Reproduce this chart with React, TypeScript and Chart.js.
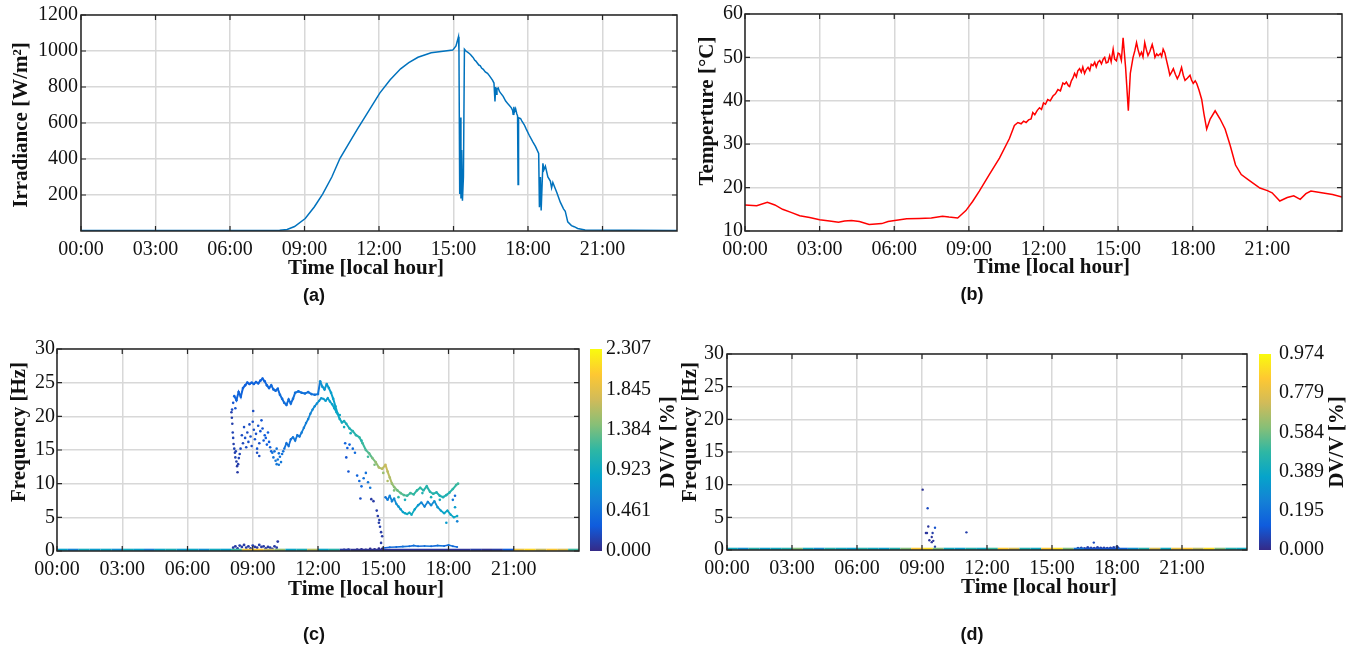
import React, { useEffect, useRef } from "react";
import { Chart, registerables } from "chart.js";
Chart.register(...registerables);

// ---------------- data ----------------
const xTickHours = [0, 3, 6, 9, 12, 15, 18, 21];
const xTickLabels = ["00:00", "03:00", "06:00", "09:00", "12:00", "15:00", "18:00", "21:00"];
const irrTicks = [200, 400, 600, 800, 1000, 1200];
const tempTicks = [10, 20, 30, 40, 50, 60];
const freqTicks = [0, 5, 10, 15, 20, 25, 30];
const cbTicksC = [0, 0.461, 0.923, 1.384, 1.845, 2.307];
const cbTicksD = [0, 0.195, 0.389, 0.584, 0.779, 0.974];

const irrTime = [0, 4, 8.0, 8.3, 8.6, 9.03, 9.4, 9.73, 10.1, 10.43, 10.8, 11.13, 11.6, 12.03, 12.45, 12.87, 13.2, 13.57, 14.1, 14.5, 14.97, 15.1, 15.2, 15.22, 15.25, 15.28, 15.3, 15.33, 15.36, 15.4, 15.44, 15.5, 15.58, 15.65, 15.7, 15.75, 15.8, 15.85, 15.9, 15.95, 16.02, 16.08, 16.13, 16.2, 16.28, 16.37, 16.45, 16.5, 16.57, 16.63, 16.65, 16.67, 16.7, 16.72, 16.75, 16.8, 16.85, 16.9, 17.0, 17.1, 17.2, 17.33, 17.38, 17.4, 17.43, 17.45, 17.5, 17.55, 17.58, 17.6, 17.62, 17.7, 17.75, 17.85, 17.93, 18.05, 18.2, 18.3, 18.43, 18.46, 18.5, 18.53, 18.6, 18.64, 18.7, 18.8, 18.9, 18.95, 19.0, 19.16, 19.3, 19.43, 19.5, 19.6, 19.75, 19.86, 20.0, 20.3, 24];
const irrValue = [3, 3, 4, 8, 25, 69, 135, 205, 300, 404, 490, 566, 670, 766, 840, 901, 935, 965, 990, 997, 1005, 1028, 1079, 1000, 205, 630, 180, 450, 168, 300, 1010, 1000, 992, 985, 978, 970, 962, 950, 944, 935, 922, 918, 905, 898, 884, 876, 862, 852, 838, 822, 770, 720, 800, 760, 790, 795, 775, 766, 748, 722, 705, 684, 670, 648, 690, 660, 680, 650, 640, 259, 630, 625, 612, 590, 566, 532, 494, 470, 431, 132, 300, 114, 376, 340, 360, 300, 277, 240, 270, 214, 160, 123, 110, 51, 30, 24, 14, 5, 3];

const tempTime = [0, 0.47, 0.9, 1.2, 1.51, 1.85, 2.2, 2.6, 3.0, 3.4, 3.76, 4.0, 4.28, 4.6, 4.99, 5.25, 5.5, 5.75, 6.02, 6.5, 7.0, 7.49, 7.94, 8.2, 8.55, 8.88, 9.15, 9.42, 9.82, 10.23, 10.63, 10.83, 10.97, 11.1, 11.2, 11.3, 11.4, 11.5, 11.57, 11.65, 11.75, 11.84, 11.92, 12.0, 12.08, 12.17, 12.27, 12.38, 12.48, 12.58, 12.68, 12.78, 12.85, 12.92, 13.0, 13.05, 13.12, 13.18, 13.25, 13.32, 13.38, 13.45, 13.52, 13.58, 13.65, 13.72, 13.79, 13.86, 13.92, 13.99, 14.06, 14.12, 14.19, 14.26, 14.33, 14.4, 14.46, 14.52, 14.59, 14.66, 14.72, 14.8, 14.86, 14.93, 15.0, 15.06, 15.13, 15.2, 15.3, 15.41, 15.49, 15.6, 15.67, 15.74, 15.8, 15.87, 15.94, 16.0, 16.07, 16.13, 16.2, 16.28, 16.37, 16.43, 16.48, 16.55, 16.61, 16.7, 16.75, 16.81, 16.88, 16.95, 17.02, 17.08, 17.15, 17.22, 17.3, 17.38, 17.46, 17.55, 17.62, 17.69, 17.78, 17.89, 17.95, 18.02, 18.1, 18.16, 18.25, 18.36, 18.45, 18.56, 18.7, 18.9, 19.1, 19.3, 19.5, 19.72, 19.95, 20.24, 20.7, 21.0, 21.19, 21.5, 21.8, 22.06, 22.32, 22.55, 22.75, 23.18, 23.62, 24];
const tempValue = [16.0, 15.8, 16.6, 16.0, 15.0, 14.3, 13.5, 13.1, 12.6, 12.3, 12.0, 12.3, 12.4, 12.2, 11.5, 11.6, 11.7, 12.2, 12.4, 12.8, 12.9, 13.0, 13.4, 13.2, 13.0, 14.7, 16.8, 19.2, 23.0, 26.8, 31.3, 34.3, 35.0, 34.7, 35.3, 35.0, 35.6, 35.8, 37.3, 36.8, 37.8, 38.4, 38.0, 39.5, 39.2, 40.3, 40.0, 41.1, 41.6, 42.6, 42.3, 44.1, 43.8, 44.3, 43.5, 43.3, 44.6, 45.2, 46.3, 45.5, 46.9, 47.4, 46.6, 47.8, 46.3, 47.2, 47.7, 47.0, 48.4, 48.1, 48.9, 47.8, 48.9, 49.3, 48.5, 49.6, 50.0, 48.7, 48.9, 50.4, 49.0, 51.9, 49.6, 49.2, 51.0, 50.8, 49.3, 54.5, 47.7, 37.7, 46.3, 50.0, 51.5, 53.4, 51.8, 50.4, 51.2, 50.1, 53.4, 51.9, 50.4, 51.4, 53.0, 51.6, 50.0, 50.8, 50.4, 50.9, 50.2, 51.9, 51.0, 49.2, 47.5, 45.9, 46.6, 47.4, 46.1, 45.1, 46.0, 47.7, 45.9, 44.7, 45.2, 45.9, 44.8, 44.0, 44.6, 44.0, 42.5, 40.3, 37.0, 33.5, 35.8, 37.7, 35.8, 33.5, 29.8, 25.2, 23.0, 21.8, 19.9, 19.3, 18.8, 16.9, 17.7, 18.1, 17.3, 18.6, 19.2, 18.8, 18.4, 17.8];

// panel (c): [hour, frequency Hz, DV/V %]
const cUpperBand = [[8.15, 23.0, 0.35], [8.25, 22.4, 0.35], [8.35, 23.6, 0.35], [8.45, 22.9, 0.35], [8.55, 24.2, 0.33], [8.65, 24.6, 0.33], [8.75, 25.0, 0.33], [8.85, 24.8, 0.33], [8.95, 25.0, 0.35], [9.05, 24.8, 0.35], [9.15, 25.1, 0.35], [9.25, 24.9, 0.35], [9.35, 25.3, 0.35], [9.45, 25.6, 0.35], [9.55, 25.2, 0.35], [9.65, 24.6, 0.38], [9.75, 24.2, 0.38], [9.85, 24.6, 0.38], [9.95, 24.0, 0.4], [10.05, 23.8, 0.4], [10.15, 24.1, 0.4], [10.25, 23.2, 0.42], [10.35, 22.6, 0.42], [10.45, 22.0, 0.42], [10.55, 21.7, 0.42], [10.65, 22.5, 0.42], [10.75, 21.9, 0.42], [10.85, 22.6, 0.45], [10.95, 23.5, 0.45], [11.1, 23.7, 0.45], [11.25, 23.5, 0.45], [11.4, 23.4, 0.45], [11.55, 23.6, 0.45], [11.7, 23.3, 0.45], [11.85, 23.2, 0.45], [12.0, 23.3, 0.5], [12.1, 25.2, 0.7], [12.2, 24.4, 0.75], [12.3, 24.0, 0.75], [12.4, 24.8, 0.78], [12.5, 24.2, 0.8], [12.6, 23.5, 0.82], [12.7, 22.6, 0.85], [12.8, 21.5, 0.9], [12.9, 20.4, 0.9], [13.0, 19.6, 0.95], [13.1, 19.1, 0.95], [13.2, 19.3, 1.0], [13.3, 18.9, 1.0], [13.45, 18.2, 1.05], [13.6, 17.8, 1.1], [13.75, 17.2, 1.1], [13.9, 16.9, 1.15], [14.05, 16.0, 1.2], [14.2, 15.0, 1.25], [14.35, 14.5, 1.3], [14.5, 13.8, 1.4], [14.65, 13.2, 1.5], [14.8, 12.4, 1.6], [14.95, 12.2, 1.65], [15.1, 12.8, 1.7], [15.2, 11.8, 1.65], [15.3, 10.9, 1.6], [15.4, 10.0, 1.5], [15.5, 9.5, 1.45], [15.65, 9.0, 1.35], [15.8, 8.6, 1.3], [15.95, 8.3, 1.25], [16.1, 8.2, 1.2], [16.25, 8.6, 1.2], [16.4, 8.4, 1.15], [16.55, 9.0, 1.15], [16.7, 9.4, 1.15], [16.85, 9.0, 1.1], [17.0, 9.6, 1.1], [17.15, 8.8, 1.1], [17.3, 8.5, 1.1], [17.45, 8.7, 1.05], [17.6, 8.2, 1.05], [17.75, 8.0, 1.05], [17.9, 8.3, 1.05], [18.05, 8.7, 1.1], [18.2, 9.2, 1.15], [18.35, 9.8, 1.2], [18.44, 10.0, 1.2]];
const cLowerBand = [[10.45, 15.2, 0.45], [10.55, 16.0, 0.45], [10.65, 15.6, 0.45], [10.75, 16.6, 0.45], [10.85, 16.9, 0.5], [10.95, 16.4, 0.5], [11.05, 17.2, 0.5], [11.15, 17.0, 0.5], [11.25, 17.6, 0.55], [11.35, 18.3, 0.55], [11.45, 19.0, 0.55], [11.55, 19.6, 0.6], [11.65, 20.4, 0.6], [11.75, 21.0, 0.65], [11.85, 21.5, 0.65], [11.95, 21.9, 0.7], [12.05, 22.3, 0.72], [12.15, 22.7, 0.75], [12.25, 22.6, 0.78], [12.35, 22.3, 0.8], [12.45, 22.7, 0.8], [12.55, 22.2, 0.82], [12.65, 21.8, 0.85], [12.75, 21.2, 0.88], [12.85, 20.6, 0.9]];
const cLateBand = [[15.1, 8.0, 0.5], [15.2, 7.6, 0.55], [15.3, 8.2, 0.6], [15.4, 7.4, 0.6], [15.5, 7.8, 0.65], [15.6, 7.0, 0.7], [15.7, 6.6, 0.75], [15.8, 6.2, 0.8], [15.9, 5.8, 0.85], [16.0, 5.6, 0.9], [16.1, 5.5, 0.95], [16.2, 5.7, 0.95], [16.3, 5.4, 0.95], [16.45, 6.2, 0.85], [16.6, 6.8, 0.75], [16.75, 7.2, 0.6], [16.9, 6.6, 0.6], [17.05, 7.3, 0.6], [17.2, 6.8, 0.65], [17.35, 7.4, 0.7], [17.5, 6.5, 0.75], [17.65, 6.0, 0.85], [17.8, 5.6, 0.9], [17.95, 6.0, 0.9], [18.1, 5.4, 0.9], [18.25, 5.0, 0.9], [18.4, 5.2, 0.9]];
const cScatter = [[8.02, 20.6, 0.12], [8.04, 19.8, 0.12], [8.06, 18.9, 0.12], [8.08, 17.6, 0.15], [8.1, 16.8, 0.15], [8.12, 15.9, 0.12], [8.15, 15.2, 0.15], [8.18, 14.6, 0.12], [8.2, 13.9, 0.15], [8.22, 14.8, 0.15], [8.25, 13.3, 0.12], [8.28, 12.6, 0.1], [8.3, 11.7, 0.1], [8.33, 12.9, 0.12], [8.36, 13.8, 0.15], [8.4, 14.4, 0.15], [8.44, 15.2, 0.18], [8.1, 22.0, 0.25], [8.2, 21.2, 0.25], [8.05, 21.0, 0.2],
  [8.5, 17.2, 0.2], [8.55, 16.0, 0.18], [8.6, 18.4, 0.2], [8.65, 16.8, 0.22], [8.7, 15.4, 0.2], [8.75, 17.6, 0.2], [8.8, 16.2, 0.22], [8.85, 18.8, 0.2], [8.9, 17.0, 0.22], [8.95, 15.6, 0.2], [9.0, 19.2, 0.22], [9.02, 20.8, 0.2], [9.05, 18.0, 0.22], [9.1, 16.6, 0.25], [9.15, 17.4, 0.22], [9.2, 15.2, 0.25], [9.25, 18.6, 0.25], [9.3, 16.0, 0.22], [9.35, 17.8, 0.25], [9.4, 19.4, 0.25], [9.45, 18.2, 0.25], [9.5, 16.4, 0.28], [9.55, 17.2, 0.28], [9.6, 16.8, 0.3], [9.65, 15.8, 0.3], [9.7, 17.6, 0.3], [9.75, 16.2, 0.3], [9.8, 15.4, 0.32], [9.85, 14.8, 0.35], [9.2, 14.6, 0.2], [9.3, 14.1, 0.2],
  [9.9, 14.6, 0.45], [9.95, 13.9, 0.45], [10.0, 14.8, 0.45], [10.05, 13.4, 0.5], [10.1, 12.9, 0.5], [10.15, 13.6, 0.5], [10.2, 12.8, 0.5], [10.25, 14.0, 0.45], [10.3, 13.2, 0.5], [10.35, 14.4, 0.45], [10.4, 14.8, 0.45], [10.1, 15.2, 0.45], [10.2, 14.5, 0.45],
  [13.25, 16.0, 0.35], [13.35, 15.3, 0.3], [13.45, 15.8, 0.35], [13.3, 13.9, 0.25], [13.4, 11.8, 0.25], [13.6, 15.2, 0.4], [13.7, 14.6, 0.4], [13.8, 11.2, 0.35], [13.9, 10.4, 0.4], [14.0, 9.6, 0.4], [14.1, 10.8, 0.45], [14.2, 11.6, 0.45], [14.3, 10.2, 0.5], [14.4, 9.4, 0.5], [13.95, 7.8, 0.2], [14.45, 7.7, 0.1], [14.55, 7.4, 0.1], [14.7, 6.0, 0.12], [14.75, 5.2, 0.1], [14.8, 4.2, 0.1], [14.85, 3.6, 0.12], [14.9, 2.8, 0.1], [14.95, 2.2, 0.1], [14.82, 4.6, 0.12], [14.9, 1.2, 0.1],
  [13.0, 20.2, 0.9], [13.2, 18.4, 0.95], [13.5, 17.5, 1.0], [14.0, 16.4, 1.1], [14.3, 14.0, 1.2], [14.6, 12.8, 1.4], [15.0, 11.6, 1.5], [15.2, 10.4, 1.6], [15.5, 9.0, 1.4], [15.7, 8.0, 1.1], [16.0, 7.6, 1.0], [16.8, 8.6, 1.05], [17.2, 8.0, 1.0], [17.6, 7.6, 0.95], [18.3, 6.5, 0.8], [18.2, 7.6, 0.5], [18.3, 8.2, 0.4], [18.4, 4.4, 0.6], [17.9, 4.2, 0.8]];
const cLowCluster = [[8.1, 0.5, 0.1], [8.2, 0.7, 0.1], [8.3, 0.4, 0.1], [8.4, 0.8, 0.12], [8.5, 0.6, 0.1], [8.6, 0.9, 0.1], [8.7, 0.5, 0.12], [8.8, 0.7, 0.1], [8.9, 0.4, 0.1], [9.0, 0.8, 0.12], [9.1, 0.6, 0.1], [9.2, 0.5, 0.1], [9.3, 0.9, 0.12], [9.4, 0.6, 0.1], [9.5, 0.7, 0.1], [9.6, 0.4, 0.1], [9.7, 0.6, 0.1], [9.8, 0.5, 0.12], [9.9, 0.3, 0.1], [10.0, 0.7, 0.1], [10.1, 0.5, 0.1], [10.15, 1.4, 0.1],
  [13.2, 0.15, 0.03], [13.4, 0.2, 0.03], [13.6, 0.1, 0.03], [13.8, 0.2, 0.03], [14.0, 0.25, 0.03], [14.2, 0.15, 0.03], [14.4, 0.3, 0.03], [14.6, 0.25, 0.03], [14.8, 0.35, 0.03], [14.95, 0.3, 0.03]];
const cLowLine = [[15.0, 0.45, 0.35], [15.3, 0.55, 0.4], [15.6, 0.6, 0.4], [15.9, 0.65, 0.45], [16.2, 0.7, 0.4], [16.4, 0.8, 0.45], [16.6, 0.7, 0.4], [16.9, 0.75, 0.45], [17.2, 0.7, 0.4], [17.5, 0.8, 0.45], [17.8, 0.75, 0.4], [18.0, 0.9, 0.45], [18.2, 0.7, 0.4], [18.4, 0.6, 0.4]];

const baseFreq = 0.15;
const baseTime = [0, 0.5, 1, 1.5, 2, 2.5, 3, 3.5, 4, 4.5, 5, 5.5, 6, 6.5, 7, 7.5, 8, 8.5, 9, 9.5, 10, 10.5, 11, 11.5, 12, 12.5, 13, 13.5, 14, 14.5, 15, 15.5, 16, 16.5, 17, 17.5, 18, 18.5, 19, 19.5, 20, 20.5, 21, 21.5, 22, 22.5, 23, 23.5, 24];
const cBaseDv = [0.85, 0.6, 0.95, 0.8, 0.9, 0.7, 0.95, 0.85, 0.6, 0.9, 1.0, 0.8, 0.9, 0.7, 0.95, 0.85, 1.2, 1.9, 2.0, 1.7, 1.5, 0.9, 1.0, 1.6, 0.9, 1.1, 0.1, 0.05, 0.05, 0.05, 0.05, 0.05, 0.05, 0.05, 0.05, 0.05, 0.05, 0.05, 0.1, 0.05, 0.1, 0.3, 1.9, 2.1, 1.7, 2.0, 1.8, 1.2, 0.6];
const dBaseDv = [0.4, 0.3, 0.45, 0.35, 0.4, 0.45, 0.6, 0.4, 0.3, 0.45, 0.4, 0.35, 0.45, 0.4, 0.35, 0.45, 0.6, 0.85, 0.9, 0.6, 0.4, 0.35, 0.45, 0.4, 0.5, 0.85, 0.75, 0.45, 0.4, 0.85, 0.9, 0.6, 0.2, 0.1, 0.1, 0.1, 0.15, 0.3, 0.45, 0.75, 0.4, 0.8, 0.85, 0.7, 0.9, 0.6, 0.45, 0.4, 0.4];

// panel (d)
const dCluster = [[16.2, 0.25, 0.05], [16.35, 0.3, 0.05], [16.5, 0.2, 0.03], [16.65, 0.35, 0.05], [16.8, 0.3, 0.05], [16.95, 0.25, 0.03], [17.1, 0.35, 0.05], [17.25, 0.3, 0.05], [17.4, 0.3, 0.03], [17.55, 0.25, 0.05], [17.7, 0.3, 0.05], [17.85, 0.35, 0.05], [18.0, 0.5, 0.08], [18.05, 0.3, 0.05]];
const dSparse = [[9.03, 9.24, 0.02], [9.26, 6.4, 0.08], [9.29, 3.6, 0.03], [9.6, 3.4, 0.1], [9.18, 2.6, 0.03], [9.23, 2.6, 0.03], [9.49, 2.6, 0.05], [9.45, 2.0, 0.03], [9.34, 1.5, 0.03], [9.52, 1.4, 0.03], [9.45, 1.2, 0.03], [9.6, 0.5, 0.05], [11.05, 2.7, 0.05], [16.93, 1.13, 0.08]];

// ---------------- helpers ----------------
const PARULA = [[53, 42, 135], [15, 92, 221], [20, 129, 214], [6, 164, 202], [46, 183, 164], [135, 191, 119], [209, 187, 89], [254, 200, 50], [249, 251, 14]];
function parula(f: number): string {
  const s = PARULA;
  const ff = Math.max(0, Math.min(1, f));
  const p = ff * (s.length - 1);
  const i = Math.min(s.length - 2, Math.floor(p));
  const t = p - i;
  const c = s[i].map((a, k) => Math.round(a + (s[i + 1][k] - a) * t));
  return `rgb(${c[0]},${c[1]},${c[2]})`;
}
const SERIF = "'Liberation Serif', 'Times New Roman', serif";
const SANS = "'Liberation Sans', Arial, sans-serif";

function pointsDs(arr: number[][], max: number, r = 1.3) {
  return {
    data: arr.map(([t, f, v]) => ({ x: t, y: f, v })),
    showLine: false,
    pointRadius: r,
    pointBorderWidth: 0,
    pointBackgroundColor: (c: any) => (c.raw ? parula(c.raw.v / max) : "#000"),
  };
}
function ribbonDs(arr: number[][], max: number, w: number, r = 1.1) {
  return {
    data: arr.map(([t, f, v]) => ({ x: t, y: f, v })),
    showLine: true,
    borderWidth: w,
    borderColor: parula(arr[0][2] / max),
    segment: { borderColor: (c: any) => parula(arr[c.p0DataIndex][2] / max) },
    pointRadius: r,
    pointBorderWidth: 0,
    pointBackgroundColor: (c: any) => (c.raw ? parula(c.raw.v / max) : "#000"),
  };
}

function decor(spec: any) {
  return {
    id: "decor",
    afterDatasetsDraw(chart: any) {
      const { ctx, chartArea: a, scales } = chart;
      const xs = scales.x, ys = scales.y;
      ctx.save();
      ctx.strokeStyle = "#262626";
      ctx.lineWidth = 1.2;
      ctx.beginPath();
      for (const h of xTickHours) {
        const px = xs.getPixelForValue(h);
        ctx.moveTo(px, a.bottom); ctx.lineTo(px, a.bottom - 5);
        ctx.moveTo(px, a.top); ctx.lineTo(px, a.top + 5);
      }
      for (const v of spec.yTicks) {
        const py = ys.getPixelForValue(v);
        ctx.moveTo(a.left, py); ctx.lineTo(a.left + 5, py);
        ctx.moveTo(a.right, py); ctx.lineTo(a.right - 5, py);
      }
      ctx.stroke();
      ctx.lineWidth = 1.5;
      ctx.strokeRect(a.left, a.top, a.right - a.left, a.bottom - a.top);
      ctx.restore();
    },
    afterDraw(chart: any) {
      const { ctx, chartArea: a } = chart;
      ctx.save();
      ctx.fillStyle = "#111";
      ctx.textAlign = "center";
      ctx.textBaseline = "middle";
      ctx.save();
      ctx.translate(spec.yTitlePos[0], spec.yTitlePos[1]);
      ctx.rotate(-Math.PI / 2);
      ctx.font = `bold 21px ${SERIF}`;
      ctx.fillText(spec.yTitle, 0, 0);
      ctx.restore();
      ctx.font = `bold 21px ${SERIF}`;
      ctx.fillText("Time [local hour]", spec.xTitlePos[0], spec.xTitlePos[1]);
      ctx.font = `bold 18px ${SANS}`;
      ctx.fillText(spec.label, spec.labelPos[0], spec.labelPos[1]);
      if (spec.cb) {
        const cb = spec.cb;
        const g = ctx.createLinearGradient(0, a.bottom, 0, a.top);
        PARULA.forEach((c, i) => g.addColorStop(i / (PARULA.length - 1), `rgb(${c[0]},${c[1]},${c[2]})`));
        ctx.fillStyle = g;
        ctx.fillRect(a.right + cb.gap0, a.top, cb.gap1 - cb.gap0, a.bottom - a.top);
        ctx.fillStyle = "#111";
        ctx.save();
        ctx.translate(cb.titlePos[0], cb.titlePos[1]);
        ctx.rotate(-Math.PI / 2);
        ctx.font = `bold 21px ${SERIF}`;
        ctx.fillText("DV/V [%]", 0, 0);
        ctx.restore();
      }
      ctx.restore();
    },
  };
}

function buildChart(canvas: HTMLCanvasElement, spec: any) {
  const { w, h, area } = spec;
  const tickFont = { family: SERIF, size: 20 };
  const scales: any = {
    x: {
      type: "linear",
      min: 0,
      max: 24,
      afterBuildTicks: (s: any) => { s.ticks = xTickHours.map((v) => ({ value: v })); },
      afterFit: (s: any) => { s.height = h - area.B; },
      ticks: {
        autoSkip: false, maxRotation: 0, minRotation: 0, padding: 7, color: "#111", font: tickFont,
        callback: (v: number) => { const i = xTickHours.indexOf(v); return i >= 0 ? xTickLabels[i] : ""; },
      },
      grid: { color: "#d8d8d8", lineWidth: 1.5, drawTicks: false },
      border: { display: false },
    },
    y: {
      type: "linear",
      min: spec.yMin,
      max: spec.yMax,
      afterBuildTicks: (s: any) => { s.ticks = spec.yTicks.map((v: number) => ({ value: v })); },
      afterFit: (s: any) => { s.width = area.L; },
      ticks: { autoSkip: false, padding: spec.yPad, color: "#111", font: tickFont, callback: (v: number) => String(v) },
      grid: { color: "#d8d8d8", lineWidth: 1.5, drawTicks: false },
      border: { display: false },
    },
  };
  if (spec.cb) {
    scales.cb = {
      type: "linear",
      position: "right",
      min: 0,
      max: spec.cb.max,
      afterBuildTicks: (s: any) => { s.ticks = spec.cb.ticks.map((v: number) => ({ value: v })); },
      afterFit: (s: any) => { s.width = w - area.R; },
      ticks: { autoSkip: false, padding: spec.cb.pad, color: "#111", font: tickFont, callback: (v: number) => v.toFixed(3) },
      grid: { display: false, drawTicks: false },
      border: { display: false },
    };
  }
  return new Chart(canvas, {
    type: "scatter",
    data: { datasets: spec.datasets },
    options: {
      animation: false,
      responsive: false,
      devicePixelRatio: 1,
      events: [],
      layout: { padding: { left: 0, top: area.T, bottom: 0, right: spec.cb ? 0 : w - area.R } },
      plugins: { legend: { display: false }, tooltip: { enabled: false } },
      scales,
    },
    plugins: [decor(spec)],
  } as any);
}

const specs: any[] = [
  {
    key: "a", left: 0, top: 0, w: 680, h: 310, area: { L: 81, R: 677, T: 10, B: 231 },
    yMin: 0, yMax: 1200, yTicks: irrTicks, yPad: 3,
    yTitle: "Irradiance [W/m²]", yTitlePos: [22, 125], xTitlePos: [366, 269], label: "(a)", labelPos: [314, 296],
    datasets: [{
      data: irrTime.map((t, i) => ({ x: t, y: irrValue[i] })), showLine: true, borderColor: "#0072BD",
      borderWidth: 1.5, pointRadius: 0, tension: 0,
    }],
  },
  {
    key: "b", left: 680, top: 0, w: 675, h: 310, area: { L: 65, R: 662, T: 9, B: 231 },
    yMin: 10, yMax: 60, yTicks: tempTicks, yPad: 2,
    yTitle: "Temperture [°C]", yTitlePos: [28, 111], xTitlePos: [372, 268], label: "(b)", labelPos: [292, 295],
    datasets: [{
      data: tempTime.map((t, i) => ({ x: t, y: tempValue[i] })), showLine: true, borderColor: "#ff0000",
      borderWidth: 1.5, pointRadius: 0, tension: 0,
    }],
  },
  {
    key: "c", left: 0, top: 310, w: 680, h: 338, area: { L: 57, R: 579, T: 20, B: 241 },
    yMin: 0, yMax: 30, yTicks: freqTicks, yPad: 2,
    yTitle: "Frequency [Hz]", yTitlePos: [20, 122], xTitlePos: [366, 280], label: "(c)", labelPos: [314, 325],
    cb: { max: 2.307, ticks: cbTicksC, gap0: 11, gap1: 23, pad: 27, titlePos: [669, 132] },
    datasets: [
      ribbonDs(baseTime.map((t, i) => [t, baseFreq, cBaseDv[i]]), 2.307, 2.6, 0),
      pointsDs(cLowCluster, 2.307, 1.4),
      ribbonDs(cLowLine, 2.307, 1.6, 1.0),
      pointsDs(cScatter, 2.307, 1.3),
      ribbonDs(cLateBand, 2.307, 1.8, 1.2),
      ribbonDs(cLowerBand, 2.307, 1.8, 1.2),
      ribbonDs(cUpperBand, 2.307, 2.0, 1.3),
    ],
  },
  {
    key: "d", left: 680, top: 310, w: 675, h: 338, area: { L: 47, R: 567, T: 19, B: 240 },
    yMin: 0, yMax: 30, yTicks: freqTicks, yPad: 3,
    yTitle: "Frequency [Hz]", yTitlePos: [11, 122], xTitlePos: [359, 278], label: "(d)", labelPos: [292, 325],
    cb: { max: 0.974, ticks: cbTicksD, gap0: 12, gap1: 24, pad: 32, titlePos: [658, 132] },
    datasets: [
      ribbonDs(baseTime.map((t, i) => [t, baseFreq, dBaseDv[i]]), 0.974, 2.6, 0),
      pointsDs(dCluster, 0.974, 1.6),
      pointsDs(dSparse, 0.974, 1.2),
    ],
  },
];

function Panel({ spec }: { spec: any }) {
  const ref = useRef<HTMLCanvasElement | null>(null);
  useEffect(() => {
    if (!ref.current) return;
    const chart = buildChart(ref.current, spec);
    return () => chart.destroy();
  }, [spec]);
  return (
    <canvas
      ref={ref}
      width={spec.w}
      height={spec.h}
      style={{ position: "absolute", left: spec.left, top: spec.top, width: spec.w, height: spec.h }}
    />
  );
}

export default function App() {
  return (
    <div style={{ position: "absolute", left: 0, top: 0, width: 1355, height: 648, background: "#fff", overflow: "hidden" }}>
      {specs.map((s) => (
        <Panel key={s.key} spec={s} />
      ))}
    </div>
  );
}
